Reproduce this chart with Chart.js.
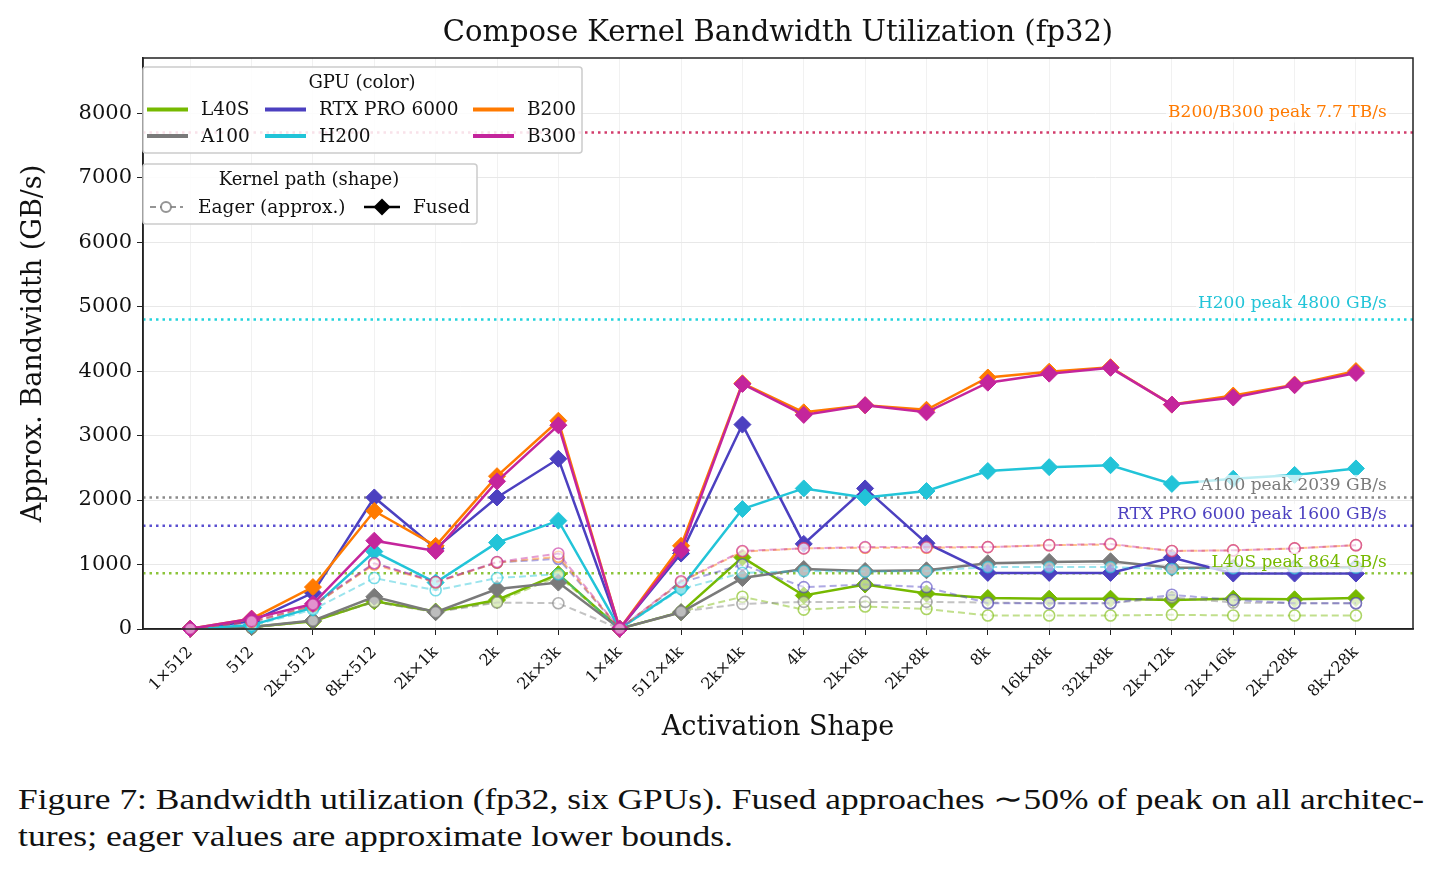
<!DOCTYPE html>
<html lang="en">
<head>
    <meta charset="UTF-8">
    <title>Compose Kernel Bandwidth Utilization</title>
    <script src="https://cdn.jsdelivr.net/npm/chart.js"></script>
    <style>
        body { margin: 0; background: #fff; }
        #wrap { position: absolute; left: 0; top: 0; width: 1442px; height: 770px; }
        .cap { position: absolute; left: 18px; white-space: nowrap; transform-origin: left top;
            font-family: "Liberation Serif", serif; font-size: 29.5px; color: #111; line-height: 37px; }
    </style>
</head>
<body>
<div id="wrap"><canvas id="chart" width="1442" height="770" style="width:1442px;height:770px"></canvas></div>
<div class="cap" id="cap1" style="top:781px">Figure 7: Bandwidth utilization (fp32, six GPUs). Fused approaches ∼50% of peak on all architec-</div>
<div class="cap" id="cap2" style="top:818px">tures; eager values are approximate lower bounds.</div>

<script>
    // activation shapes along x
    var shapes = ['1×512', '512', '2k×512', '8k×512', '2k×1k', '2k', '2k×3k', '1×4k', '512×4k', '2k×4k',
        '4k', '2k×6k', '2k×8k', '8k', '16k×8k', '32k×8k', '2k×12k', '2k×16k', '2k×28k', '8k×28k'];

    var gpus = ['L40S', 'A100', 'RTX PRO 6000', 'H200', 'B200', 'B300'];

    // fused kernel, GB/s
    var fusedL40S = [4, 30, 120, 430, 270, 450, 850, 4, 260, 1110, 520, 690, 550, 480, 470, 470, 450, 470, 460, 480];
    var fusedA100 = [4, 30, 130, 500, 260, 620, 720, 4, 260, 790, 930, 900, 910, 1020, 1040, 1050, 950, 950, 950, 960];
    var fusedRTX = [4, 120, 560, 2040, 1250, 2040, 2640, 4, 1170, 3170, 1320, 2180, 1330, 870, 870, 870, 1110, 860, 860, 860];
    var fusedH200 = [4, 60, 330, 1200, 720, 1340, 1680, 4, 640, 1860, 2180, 2040, 2140, 2450, 2510, 2540, 2250, 2330, 2390, 2490];
    var fusedB200 = [4, 160, 650, 1830, 1290, 2370, 3230, 4, 1290, 3810, 3360, 3470, 3400, 3900, 3990, 4060, 3480, 3620, 3790, 4000];
    var fusedB300 = [4, 160, 390, 1370, 1210, 2290, 3160, 4, 1220, 3800, 3320, 3470, 3360, 3820, 3960, 4050, 3480, 3590, 3780, 3970];

    // eager path (approx.), GB/s
    var eagerL40S = [4, 20, 120, 420, 270, 420, 820, 4, 270, 500, 300, 350, 310, 210, 210, 210, 220, 210, 210, 210];
    var eagerA100 = [4, 20, 130, 420, 260, 410, 400, 4, 270, 390, 420, 420, 420, 410, 400, 400, 490, 410, 400, 400];
    var eagerRTX = [4, 100, 360, 1020, 730, 1030, 1090, 4, 720, 1000, 650, 690, 650, 400, 400, 400, 530, 450, 400, 400];
    var eagerH200 = [4, 50, 300, 790, 600, 790, 850, 4, 620, 870, 900, 890, 900, 960, 960, 960, 930, 940, 940, 950];
    var eagerB200 = [4, 110, 360, 1000, 720, 1030, 1120, 4, 730, 1200, 1250, 1260, 1260, 1270, 1300, 1310, 1210, 1220, 1250, 1300];
    var eagerB300 = [4, 120, 380, 1020, 730, 1040, 1170, 4, 740, 1210, 1250, 1270, 1270, 1270, 1300, 1320, 1210, 1220, 1250, 1300];

    // peak bandwidth reference lines
    var peakValues = [7700, 4800, 2039, 1600, 864];
    var peakLabels = ['B200/B300 peak 7.7 TB/s', 'H200 peak 4800 GB/s', 'A100 peak 2039 GB/s',
        'RTX PRO 6000 peak 1600 GB/s', 'L40S peak 864 GB/s'];

    var yTicks = [0, 1000, 2000, 3000, 4000, 5000, 6000, 7000, 8000];

    var colors = ['#76b900', '#7a7a7a', '#4c40c0', '#22c4d8', '#ff7a00', '#c4259c'];
    var peakLineColors = ['#d23c6c', '#22d4dc', '#8a8a8a', '#5a4fd0', '#8cc43a'];
    var peakTextColors = ['#ff7a00', '#22c4d8', '#7a7a7a', '#4c40c0', '#76b900'];

    var fused = [fusedL40S, fusedA100, fusedRTX, fusedH200, fusedB200, fusedB300];
    var eager = [eagerL40S, eagerA100, eagerRTX, eagerH200, eagerB200, eagerB300];

    // stretch caption lines to the widths of the typeset caption
    function fitCaption(id, target) {
        var el = document.getElementById(id);
        var w = el.getBoundingClientRect().width;
        el.style.transform = 'scaleX(' + (target / w) + ')';
    }
    fitCaption('cap1', 1406);
    fitCaption('cap2', 715);

    function rgba(hex, a) {
        var n = parseInt(hex.slice(1), 16);
        return 'rgba(' + (n >> 16) + ',' + ((n >> 8) & 255) + ',' + (n & 255) + ',' + a + ')';
    }
    function pts(arr) {
        return arr.map(function (v, i) { return { x: i, y: v }; });
    }

    var serif = '"DejaVu Serif", serif';
    var datasets = [];
    var seq = 0;
    gpus.forEach(function (g, k) {
        datasets.push({
            label: g + ' fused', data: pts(fused[k]), order: 100 - seq++,
            borderColor: colors[k], borderWidth: 2.5,
            pointStyle: 'rectRot', pointRadius: 8.5, pointBorderWidth: 1,
            pointBackgroundColor: colors[k], pointBorderColor: colors[k], clip: false
        });
        datasets.push({
            label: g + ' eager', data: pts(eager[k]), order: 100 - seq++,
            borderColor: rgba(colors[k], 0.45), borderWidth: 2, borderDash: [7, 4],
            pointStyle: 'circle', pointRadius: 5.5, pointBorderWidth: 1.6,
            pointBackgroundColor: 'rgba(255,255,255,0.5)', pointBorderColor: rgba(colors[k], 0.6), clip: false
        });
    });

    function legendBox(ctx, x, y, w, h) {
        ctx.save();
        ctx.fillStyle = 'rgba(255,255,255,0.85)';
        ctx.strokeStyle = '#cccccc';
        ctx.lineWidth = 1.5;
        ctx.beginPath();
        ctx.roundRect(x, y, w, h, 3);
        ctx.fill();
        ctx.stroke();
        ctx.restore();
    }

    var extras = {
        id: 'extras',
        beforeDatasetsDraw: function (chart) {
            var c = chart.ctx, a = chart.chartArea, ys = chart.scales.y;
            c.save();
            c.lineWidth = 2.5;
            c.setLineDash([2.5, 4]);
            peakValues.forEach(function (p, i) {
                var py = ys.getPixelForValue(p);
                c.strokeStyle = peakLineColors[i];
                c.beginPath();
                c.moveTo(a.left, py);
                c.lineTo(a.right, py);
                c.stroke();
            });
            c.restore();
        },
        afterDatasetsDraw: function (chart) {
            var c = chart.ctx, xs = chart.scales.x, ys = chart.scales.y;
            c.save();
            c.font = '17px ' + serif;
            c.textAlign = 'right';
            c.textBaseline = 'bottom';
            peakValues.forEach(function (p, i) {
                var px = xs.getPixelForValue(19.5);
                var py = ys.getPixelForValue(p * 1.02) - 1;
                var w = c.measureText(peakLabels[i]).width;
                c.fillStyle = 'rgba(255,255,255,0.7)';
                c.fillRect(px - w - 2, py - 19, w + 4, 20);
                c.fillStyle = peakTextColors[i];
                c.fillText(peakLabels[i], px, py);
            });
            c.restore();
        },
        afterDraw: function (chart) {
            var c = chart.ctx, a = chart.chartArea;
            c.save();
            // frame
            c.strokeStyle = '#222';
            c.lineWidth = 1.5;
            c.strokeRect(a.left, a.top, a.right - a.left, a.bottom - a.top);
            // title
            c.fillStyle = '#111';
            c.font = '29px ' + serif;
            c.textAlign = 'center';
            c.textBaseline = 'middle';
            c.fillText('Compose Kernel Bandwidth Utilization (fp32)', (a.left + a.right) / 2, 33);

            // GPU legend
            legendBox(c, 143, 67, 439, 86);
            c.font = '18px ' + serif;
            c.fillText('GPU (color)', 362, 83);
            var cols = [[147, 201], [265, 319], [473, 527]];
            var slots = [[0, 0], [0, 1], [1, 0], [1, 1], [2, 0], [2, 1]];
            c.font = '18.5px ' + serif;
            c.textAlign = 'left';
            gpus.forEach(function (g, k) {
                var col = cols[slots[k][0]], ry = slots[k][1] ? 136 : 109.5;
                c.strokeStyle = colors[k];
                c.lineWidth = 4;
                c.beginPath();
                c.moveTo(col[0], ry);
                c.lineTo(col[0] + 41, ry);
                c.stroke();
                c.fillStyle = '#111';
                c.fillText(g, col[1], ry + 1);
            });

            // kernel path legend
            legendBox(c, 143, 164, 334, 60);
            c.textAlign = 'center';
            c.font = '18px ' + serif;
            c.fillText('Kernel path (shape)', 309, 180);
            var ry = 207;
            c.strokeStyle = 'rgba(122,122,122,0.8)';
            c.lineWidth = 2;
            c.setLineDash([6, 4]);
            c.beginPath();
            c.moveTo(150, ry);
            c.lineTo(183, ry);
            c.stroke();
            c.setLineDash([]);
            c.fillStyle = '#fff';
            c.beginPath();
            c.arc(166, ry, 5, 0, Math.PI * 2);
            c.fill();
            c.stroke();
            c.strokeStyle = '#000';
            c.lineWidth = 2.5;
            c.beginPath();
            c.moveTo(364, ry);
            c.lineTo(400, ry);
            c.stroke();
            c.fillStyle = '#000';
            c.beginPath();
            c.moveTo(382, ry - 8.5);
            c.lineTo(390.5, ry);
            c.lineTo(382, ry + 8.5);
            c.lineTo(373.5, ry);
            c.closePath();
            c.fill();
            c.fillStyle = '#111';
            c.font = '18.5px ' + serif;
            c.textAlign = 'left';
            c.fillText('Eager (approx.)', 198, ry + 1);
            c.fillText('Fused', 413, ry + 1);
            c.restore();
        }
    };

    new Chart(document.getElementById('chart'), {
        type: 'line',
        data: { datasets: datasets },
        options: {
            responsive: false,
            animation: false,
            layout: { padding: { top: 58, right: 29, bottom: 0, left: 0 } },
            plugins: { legend: { display: false }, tooltip: { enabled: false }, title: { display: false } },
            scales: {
                x: {
                    type: 'linear', min: -0.77, max: 19.93,
                    afterBuildTicks: function (s) { s.ticks = shapes.map(function (_, i) { return { value: i }; }); },
                    afterFit: function (s) { s.height = 141; },
                    ticks: {
                        callback: function (v) { return shapes[v]; },
                        minRotation: 45, maxRotation: 45, autoSkip: false,
                        font: { family: serif, size: 16 }, color: '#111', padding: 8
                    },
                    grid: { color: '#f1f1f1', tickColor: '#222', tickLength: 6, lineWidth: 1 },
                    border: { color: '#222', width: 1.5 },
                    title: { display: true, text: 'Activation Shape', font: { family: serif, size: 27 }, color: '#111', padding: { top: 0, bottom: 26 } }
                },
                y: {
                    min: 0, max: 8855,
                    afterBuildTicks: function (s) { s.ticks = yTicks.map(function (v) { return { value: v }; }); },
                    afterFit: function (s) { s.width = 143; },
                    ticks: { font: { family: serif, size: 21 }, color: '#111', padding: 5, callback: function (v) { return String(v); } },
                    grid: { color: '#e8e8e8', tickColor: '#222', tickLength: 6, lineWidth: 1 },
                    border: { color: '#222', width: 1.5 },
                    title: { display: true, text: 'Approx. Bandwidth (GB/s)', font: { family: serif, size: 27 }, color: '#111', padding: { top: 18, bottom: 0 } }
                }
            }
        },
        plugins: [extras]
    });
</script>
</body>
</html>
